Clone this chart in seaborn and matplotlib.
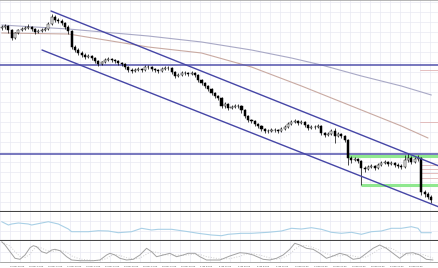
import numpy as np
import matplotlib
matplotlib.use("Agg")
import matplotlib.pyplot as plt
import seaborn as sns

# ---- H4 candles (prices) ----
first_open = 1.2476
close = [1.2484, 1.2492, 1.2460, 1.2396, 1.2436, 1.2460, 1.2468, 1.2476, 1.2484, 1.2468,
         1.2444, 1.2452, 1.2460, 1.2468, 1.2508, 1.2564, 1.2540, 1.2532, 1.2516, 1.2484,
         1.2452, 1.2324, 1.2300, 1.2276, 1.2260, 1.2244, 1.2252, 1.2236, 1.2212, 1.2188,
         1.2204, 1.2220, 1.2228, 1.2220, 1.2212, 1.2196, 1.2188, 1.2164, 1.2140, 1.2132,
         1.2140, 1.2148, 1.2140, 1.2164, 1.2164, 1.2148, 1.2140, 1.2132, 1.2148, 1.2156,
         1.2156, 1.2124, 1.2092, 1.2100, 1.2116, 1.2116, 1.2108, 1.2116, 1.2100, 1.2060,
         1.2036, 1.2012, 1.1988, 1.1956, 1.1932, 1.1916, 1.1852, 1.1868, 1.1836, 1.1844,
         1.1852, 1.1852, 1.1820, 1.1772, 1.1740, 1.1732, 1.1708, 1.1692, 1.1668, 1.1652,
         1.1652, 1.1660, 1.1660, 1.1652, 1.1668, 1.1684, 1.1708, 1.1724, 1.1732, 1.1716,
         1.1724, 1.1700, 1.1676, 1.1684, 1.1684, 1.1692, 1.1636, 1.1620, 1.1628, 1.1652,
         1.1612, 1.1628, 1.1612, 1.1580, 1.1436, 1.1420, 1.1428, 1.1412, 1.1356, 1.1348,
         1.1364, 1.1372, 1.1356, 1.1380, 1.1396, 1.1404, 1.1388, 1.1396, 1.1380, 1.1372,
         1.1364, 1.1420, 1.1436, 1.1404, 1.1428, 1.1436, 1.1164, 1.1148, 1.1124, 1.1100]
high = [1.2500, 1.2508, 1.2500, 1.2468, 1.2444, 1.2468, 1.2484, 1.2492, 1.2508, 1.2492,
        1.2476, 1.2468, 1.2476, 1.2484, 1.2524, 1.2588, 1.2580, 1.2556, 1.2548, 1.2524,
        1.2500, 1.2460, 1.2340, 1.2316, 1.2292, 1.2276, 1.2268, 1.2260, 1.2244, 1.2220,
        1.2212, 1.2236, 1.2244, 1.2236, 1.2228, 1.2220, 1.2204, 1.2196, 1.2172, 1.2156,
        1.2156, 1.2164, 1.2156, 1.2180, 1.2180, 1.2172, 1.2156, 1.2148, 1.2164, 1.2172,
        1.2172, 1.2164, 1.2132, 1.2116, 1.2132, 1.2132, 1.2124, 1.2132, 1.2124, 1.2108,
        1.2068, 1.2044, 1.2020, 1.1996, 1.1964, 1.1940, 1.1924, 1.1884, 1.1876, 1.1860,
        1.1868, 1.1868, 1.1860, 1.1828, 1.1780, 1.1748, 1.1740, 1.1716, 1.1700, 1.1676,
        1.1668, 1.1676, 1.1676, 1.1668, 1.1684, 1.1700, 1.1724, 1.1740, 1.1748, 1.1740,
        1.1740, 1.1732, 1.1708, 1.1700, 1.1700, 1.1708, 1.1700, 1.1644, 1.1644, 1.1668,
        1.1676, 1.1644, 1.1636, 1.1620, 1.1588, 1.1452, 1.1444, 1.1436, 1.1420, 1.1372,
        1.1380, 1.1388, 1.1380, 1.1396, 1.1412, 1.1420, 1.1412, 1.1412, 1.1404, 1.1396,
        1.1388, 1.1460, 1.1476, 1.1452, 1.1444, 1.1460, 1.1444, 1.1180, 1.1164, 1.1140]
low = [1.2460, 1.2468, 1.2436, 1.2380, 1.2388, 1.2428, 1.2452, 1.2460, 1.2468, 1.2452,
       1.2428, 1.2436, 1.2444, 1.2452, 1.2460, 1.2500, 1.2524, 1.2516, 1.2500, 1.2468,
       1.2428, 1.2308, 1.2284, 1.2260, 1.2244, 1.2228, 1.2236, 1.2220, 1.2196, 1.2172,
       1.2180, 1.2196, 1.2212, 1.2204, 1.2196, 1.2180, 1.2172, 1.2148, 1.2124, 1.2116,
       1.2124, 1.2132, 1.2124, 1.2132, 1.2148, 1.2132, 1.2124, 1.2116, 1.2124, 1.2140,
       1.2140, 1.2108, 1.2076, 1.2084, 1.2092, 1.2100, 1.2092, 1.2100, 1.2084, 1.2044,
       1.2020, 1.1996, 1.1972, 1.1940, 1.1916, 1.1900, 1.1836, 1.1836, 1.1820, 1.1828,
       1.1836, 1.1836, 1.1796, 1.1756, 1.1724, 1.1716, 1.1692, 1.1676, 1.1652, 1.1636,
       1.1636, 1.1644, 1.1644, 1.1636, 1.1644, 1.1660, 1.1676, 1.1700, 1.1716, 1.1700,
       1.1708, 1.1684, 1.1660, 1.1668, 1.1668, 1.1676, 1.1620, 1.1604, 1.1612, 1.1620,
       1.1556, 1.1604, 1.1596, 1.1564, 1.1380, 1.1396, 1.1412, 1.1396, 1.1220, 1.1324,
       1.1340, 1.1356, 1.1340, 1.1348, 1.1372, 1.1388, 1.1372, 1.1380, 1.1364, 1.1356,
       1.1348, 1.1356, 1.1404, 1.1388, 1.1396, 1.1412, 1.1140, 1.1124, 1.1108, 1.1076]

# moving averages (sampled along the curve)
ma_slow_idx = [0, 20, 44, 60, 75, 87, 96, 108, 120, 129]
ma_slow = [1.2500, 1.2468, 1.2412, 1.2364, 1.2300, 1.2236, 1.2180, 1.2092, 1.2012, 1.1940]
ma_fast_idx = [0, 20, 44, 60, 75, 90, 108, 120, 128]
ma_fast = [1.2436, 1.2428, 1.2324, 1.2276, 1.2164, 1.2012, 1.1820, 1.1692, 1.1596]

# drawn objects: channel anchors (candle index, price), horizontal levels
upper_channel = [(14.8, 1.2612), (131.3, 1.1372)]
lower_channel = [(12.1, 1.2300), (131.3, 1.1044)]
blue_levels = [1.2184, 1.1472]
green_levels = [1.1456, 1.1220]
green_start = [104, 108]
pink_levels = [1.2140, 1.1724, 1.1380, 1.1348, 1.1316, 1.1276]

# middle indicator pane
osc_idx = [0, 2, 3, 5, 8, 9, 12, 14, 17, 20, 21, 26, 29, 32, 35, 39, 42, 45, 47, 51, 56, 59, 63,
           66, 68, 72, 75, 80, 84, 87, 90, 93, 96, 99, 102, 105, 108, 111, 114, 117, 120, 123,
           125, 126, 129]
osc_val = [18.8, 15.5, 16.5, 17.5, 16.5, 15.5, 17.5, 18.8, 16.5, 11.5, 8.8, 8.8, 9.8, 9.5, 7.8,
           8.8, 12.2, 10.5, 11.2, 11.2, 8.8, 7.2, 5.5, 4.8, 6.2, 7.2, 7.2, 8.2, 9.5, 12.2, 11.5,
           12.8, 11.2, 8.2, 7.2, 8.2, 6.2, 8.8, 9.5, 12.2, 12.2, 13.8, 12.2, 7.8, 7.8]

# stochastic pane
sto_idx = [0, 1, 2.5, 4, 5.5, 7, 8.5, 9.5, 10.5, 12, 13.5, 15, 16, 17.5, 19.5, 21, 23.5, 27.5,
           29.5, 31.5, 32.5, 34, 35.5, 37.5, 39.5, 41.5, 43.5, 45, 46.5, 48.5, 50.5, 52.5, 54.5,
           56, 58, 59.5, 61.5, 65.5, 68.5, 71.5, 73.5, 75.5, 78.5, 80.5, 82.5, 84.5, 86.5, 88,
           89.5, 91.5, 93.5, 95.5, 97.5, 99.5, 101.5, 103.5, 105.5, 107.5, 109.5, 111.5, 113.5,
           115.5, 117.5, 119.5, 121.5, 123.5, 125.5, 127.5, 129.5]
sto_k = [99, 82.5, 49, 16, 11, 32.5, 69, 79, 74, 49, 41, 57.5, 61, 54, 24, 7.5, 4, 4, 7.5, 32.5,
         41, 32.5, 16, 7.5, 11, 32.5, 66, 49, 24, 32.5, 41, 24, 32.5, 41, 41, 24, 7.5, 7.5, 27.5,
         44, 41, 32.5, 11, 7.5, 16, 32.5, 61, 91, 82.5, 66, 61, 41, 16, 27.5, 41, 32.5, 11, 16,
         41, 66, 82.5, 66, 41, 16, 41, 44, 32.5, 11, 7.5]
sto_d = [96, 90, 77, 49, 25, 20, 37, 60, 74, 67, 55, 49, 53, 57, 46, 28, 12, 5, 5, 15, 27, 35,
         30, 19, 12, 17, 37, 49, 46, 35, 32, 32, 32, 33, 38, 35, 24, 13, 14, 26, 38, 39, 28, 17,
         12, 19, 37, 61, 78, 80, 70, 56, 39, 28, 28, 34, 28, 20, 23, 41, 63, 71, 63, 41, 33, 34,
         39, 29, 17]

time_labels = ["11 Dec 12:00", "12 Dec 20:00", "15 Dec 04:00", "16 Dec 12:00", "17 Dec 20:00",
               "19 Dec 04:00", "22 Dec 12:00", "23 Dec 20:00", "26 Dec 04:00", "29 Dec 12:00",
               "30 Dec 20:00", "2 Jan 04:00", "5 Jan 12:00", "6 Jan 20:00", "8 Jan 04:00",
               "9 Jan 12:00", "12 Jan 20:00", "14 Jan 04:00", "15 Jan 12:00", "16 Jan 20:00",
               "20 Jan 04:00", "21 Jan 12:00", "22 Jan 20:00"]

sns.set_style("white")
plt.rcParams["font.family"] = ["DejaVu Sans"]

W, H = 439, 268
fig = plt.figure(figsize=(W / 100, H / 100), dpi=100)


def pane(top, bottom):
    return fig.add_axes([0, (H - bottom) / H, 1, (bottom - top) / H])


ax = pane(0, 212)
ax2 = pane(212, 240.5)
ax3 = pane(240.5, 262)

XMIN, XMAX = -0.51, 131.3
grid_x = np.arange(-0.5, XMAX, 3)
grid_kw = dict(color="#e9e9f3", lw=0.5, zorder=0)

for a in (ax, ax2, ax3):
    a.set_xlim(XMIN, XMAX)
    a.set_facecolor("white")
    for s in ("left", "right", "top"):
        a.spines[s].set_visible(False)
    a.set_yticks([])
    a.set_xticks([])
    for gx in grid_x:
        a.axvline(gx, **grid_kw)

# ---- main pane ----
ax.set_ylim(1.1004, 1.2700)
for gy in np.arange(1.1004, 1.27, 0.008):
    ax.axhline(gy, **grid_kw)
ax.spines["top"].set_visible(True)
ax.spines["top"].set_color("#a8a8a8")
ax.spines["top"].set_linewidth(1.2)
ax.spines["bottom"].set_color("#444444")
ax.spines["bottom"].set_linewidth(1.5)

idx = np.arange(len(close))
opens = np.array([first_open] + close[:-1])
closes = np.array(close)
up = closes > opens
ax.vlines(idx, low, high, color="black", lw=0.5, zorder=3)
body = np.where(closes == opens, 0.00015, closes - opens)
ax.bar(idx, body, bottom=opens, width=0.62,
       color=np.where(up, "white", "black"), edgecolor="black", lw=0.35, zorder=4)

sns.lineplot(x=ma_slow_idx, y=ma_slow, ax=ax, color="#a9a9c6", lw=0.8, zorder=2)
sns.lineplot(x=ma_fast_idx, y=ma_fast, ax=ax, color="#c9aaa2", lw=0.8, zorder=2)

for y in blue_levels:
    ax.axhline(y, color="#5252ac", lw=1.1, zorder=2)
for (x0, y0), (x1, y1) in (upper_channel, lower_channel):
    ax.plot([x0, x1], [y0, y1], color="#4646a6", lw=1.0, zorder=5)
for y, xs in zip(green_levels, green_start):
    ax.plot([xs, XMAX], [y, y], color="#8fe88f", lw=2.2, zorder=1.5, solid_capstyle="butt")
for y in pink_levels:
    ax.plot([125.6, XMAX], [y, y], color="#e0b4b4", lw=0.6, zorder=1.8)

# ---- middle pane ----
ax2.set_ylim(0, 28.5)
for gy in (9.5, 19.5):
    ax2.axhline(gy, **grid_kw)
ax2.spines["bottom"].set_color("#444444")
ax2.spines["bottom"].set_linewidth(1.5)
sns.lineplot(x=osc_idx, y=osc_val, ax=ax2, color="#a9d0e6", lw=0.8)

# ---- stochastic pane ----
ax3.set_ylim(-2.5, 105)
ax3.axhline(50, **grid_kw)
ax3.spines["bottom"].set_color("#9a9a9a")
ax3.spines["bottom"].set_linewidth(0.6)
sns.lineplot(x=sto_idx, y=sto_d, ax=ax3, color="#cfcfcf", lw=0.7, linestyle=":")
sns.lineplot(x=sto_idx, y=sto_k, ax=ax3, color="#a2a2a2", lw=0.7)

tick_pos = np.arange(-3.2, XMAX, 5.7)[:len(time_labels)]
ax3.set_xticks(tick_pos)
ax3.set_xticklabels(time_labels, fontsize=1.5, color="#404040", ha="left")
ax3.tick_params(axis="x", length=2, width=0.4, color="#808080", pad=0.6)
ax3.set_xlim(XMIN, XMAX)

for a in (ax, ax2, ax3):
    a.set_xlabel("")
    a.set_ylabel("")

fig.savefig("out.png", dpi=100)
